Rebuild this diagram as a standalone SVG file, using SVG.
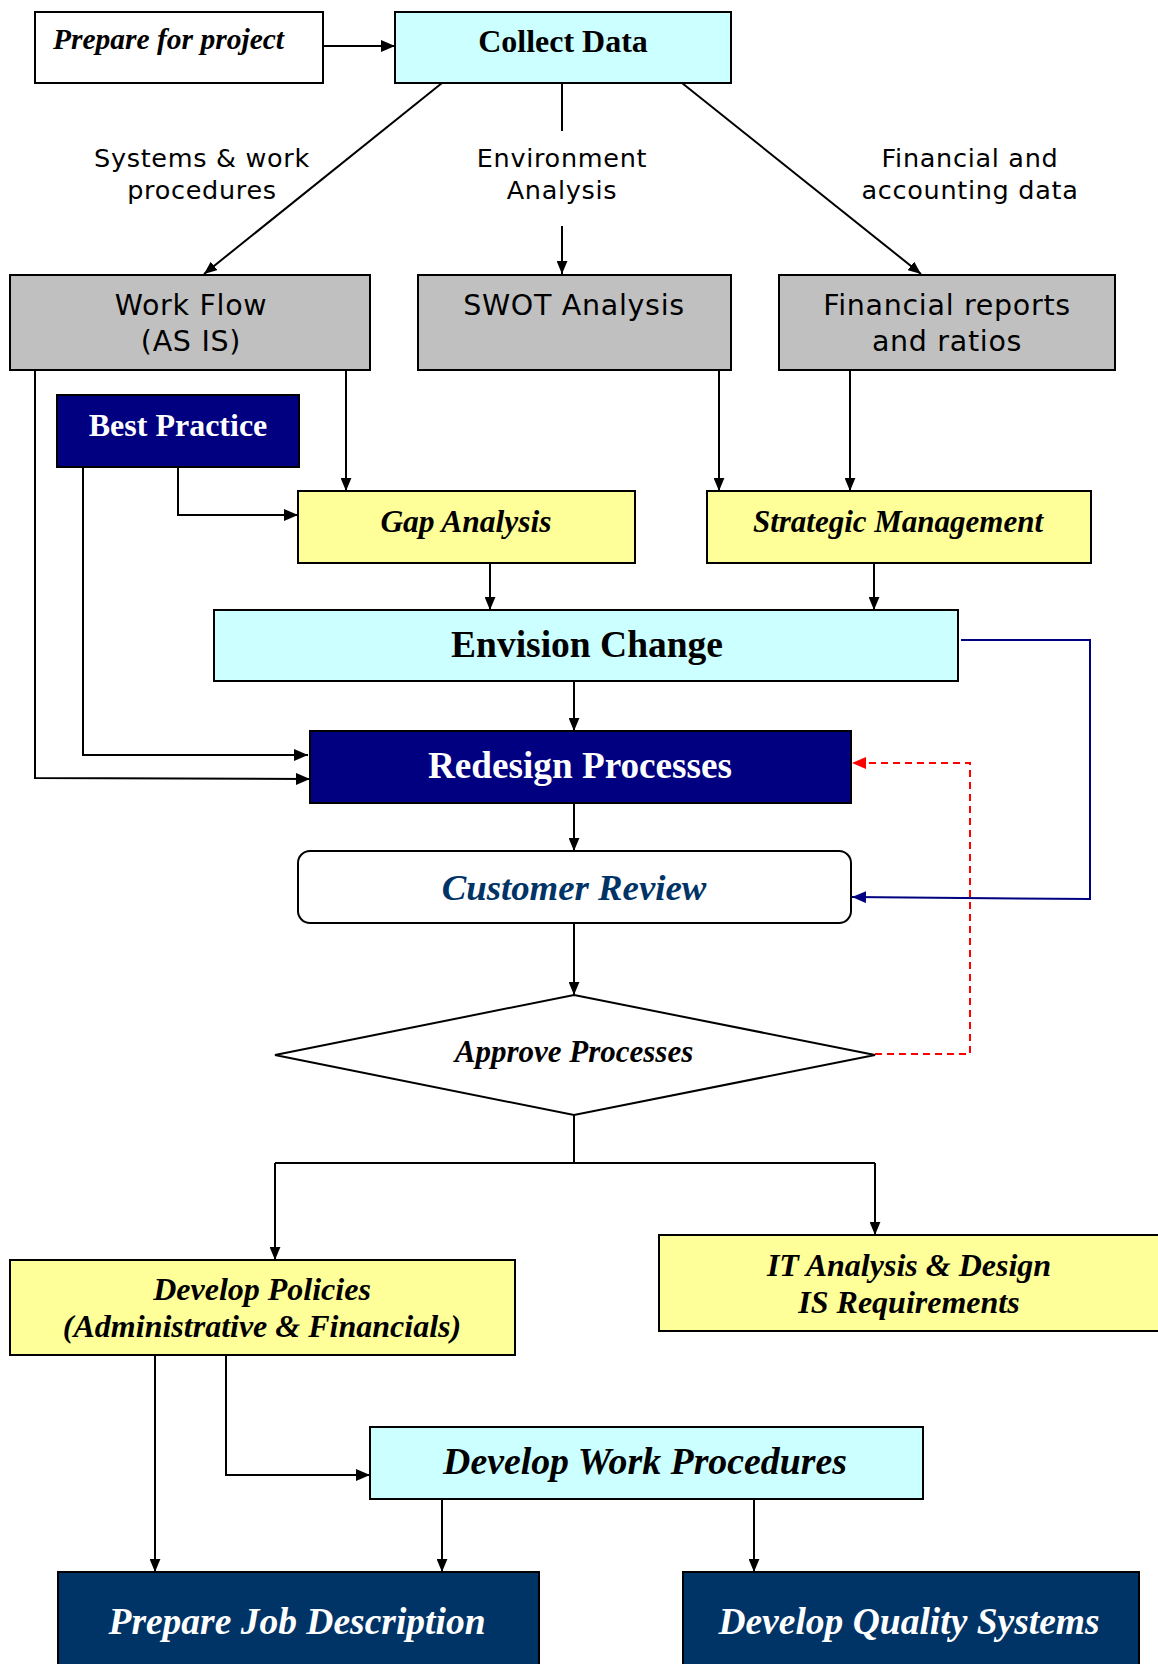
<svg xmlns="http://www.w3.org/2000/svg" width="1158" height="1664" viewBox="0 0 1158 1664">
<defs>
<marker id="ah" viewBox="0 0 12 10" refX="12" refY="5" markerWidth="13" markerHeight="11" markerUnits="userSpaceOnUse" orient="auto"><path d="M0,0 L12,5 L0,10 Z" fill="#000"/></marker>
<marker id="ahb" viewBox="0 0 14 12" refX="14" refY="6" markerWidth="14" markerHeight="12" markerUnits="userSpaceOnUse" orient="auto"><path d="M0,0 L14,6 L0,12 Z" fill="#000"/></marker>
<marker id="ahn" viewBox="0 0 14 12" refX="14" refY="6" markerWidth="14" markerHeight="12" markerUnits="userSpaceOnUse" orient="auto"><path d="M0,0 L14,6 L0,12 Z" fill="#000080"/></marker>
<marker id="ahr" viewBox="0 0 14 12" refX="14" refY="6" markerWidth="14" markerHeight="12" markerUnits="userSpaceOnUse" orient="auto"><path d="M0,0 L14,6 L0,12 Z" fill="#FF0000"/></marker>
</defs>
<style>
.box{stroke:#000;stroke-width:2}
.cyan{fill:#CCFFFF}
.gray{fill:#C0C0C0}
.yel{fill:#FFFF99}
.navy{fill:#000080}
.dnavy{fill:#003366}
.ser{font-family:"Liberation Serif","Times New Roman",serif;font-weight:bold;text-anchor:middle}
.it{font-style:italic}
.sans{font-family:"DejaVu Sans",Verdana,sans-serif;text-anchor:middle;fill:#000}
.lbl{font-size:25.5px;letter-spacing:0.7px}
.bx{font-size:28.5px;letter-spacing:0.7px}
.c{fill:none;stroke:#000;stroke-width:2}
</style>
<rect width="1158" height="1664" fill="#fff"/>
<g id="connectors">
<path class="c" d="M323,46 L395,46" marker-end="url(#ahb)"/>
<path class="c" d="M442,83 L204,274" marker-end="url(#ah)"/>
<path class="c" d="M562,83 L562,131"/>
<path class="c" d="M562,226 L562,274" marker-end="url(#ah)"/>
<path class="c" d="M682,83 L921,274" marker-end="url(#ah)"/>
<path class="c" d="M346,370 L346,491" marker-end="url(#ah)"/>
<path class="c" d="M719,370 L719,491" marker-end="url(#ah)"/>
<path class="c" d="M850,370 L850,491" marker-end="url(#ah)"/>
<path class="c" d="M178,467 L178,515 L298,515" marker-end="url(#ahb)"/>
<path class="c" d="M83,467 L83,755 L308,755" marker-end="url(#ahb)"/>
<path class="c" d="M35,370 L35,778 L310,779" marker-end="url(#ahb)"/>
<path class="c" d="M490,563 L490,610" marker-end="url(#ah)"/>
<path class="c" d="M874,563 L874,610" marker-end="url(#ah)"/>
<path class="c" d="M574,681 L574,731" marker-end="url(#ah)"/>
<path class="c" d="M574,803 L574,851" marker-end="url(#ah)"/>
<path class="c" d="M574,923 L574,995" marker-end="url(#ah)"/>
<path d="M961,640 L1090,640 L1090,899 L852,897" fill="none" stroke="#000080" stroke-width="2" marker-end="url(#ahn)"/>
<path d="M875,1054 L970,1054 L970,763 L852,763" fill="none" stroke="#FF0000" stroke-width="2" stroke-dasharray="7,5" marker-end="url(#ahr)"/>
<path class="c" d="M574,1115 L574,1163"/>
<path class="c" d="M275,1163 L875,1163"/>
<path class="c" d="M275,1163 L275,1260" marker-end="url(#ah)"/>
<path class="c" d="M875,1163 L875,1235" marker-end="url(#ah)"/>
<path class="c" d="M155,1355 L155,1572" marker-end="url(#ah)"/>
<path class="c" d="M226,1355 L226,1475 L370,1475" marker-end="url(#ahb)"/>
<path class="c" d="M442,1499 L442,1572" marker-end="url(#ah)"/>
<path class="c" d="M754,1499 L754,1572" marker-end="url(#ah)"/>
</g>
<g id="labels">
<text class="sans lbl" x="202" y="167">Systems &amp; work</text>
<text class="sans lbl" x="202" y="199">procedures</text>
<text class="sans lbl" x="562" y="167">Environment</text>
<text class="sans lbl" x="562" y="199">Analysis</text>
<text class="sans lbl" x="970" y="167">Financial and</text>
<text class="sans lbl" x="970" y="199">accounting data</text>
</g>
<g id="prepare-for-project">
<rect class="box" x="35" y="12" width="288" height="71" fill="#fff"/>
<text class="ser it" font-size="29.5" x="53" y="49" style="text-anchor:start">Prepare for project</text>
</g>
<g id="collect-data">
<rect class="box cyan" x="395" y="12" width="336" height="71"/>
<text class="ser" font-size="32" x="563" y="52">Collect Data</text>
</g>
<g id="work-flow">
<rect class="box gray" x="10" y="275" width="360" height="95"/>
<text class="sans bx" x="191" y="315">Work Flow</text>
<text class="sans bx" x="191" y="351">(AS IS)</text>
</g>
<g id="swot">
<rect class="box gray" x="418" y="275" width="313" height="95"/>
<text class="sans bx" x="574" y="315">SWOT Analysis</text>
</g>
<g id="financial-reports">
<rect class="box gray" x="779" y="275" width="336" height="95"/>
<text class="sans bx" x="947" y="315">Financial reports</text>
<text class="sans bx" x="947" y="351">and ratios</text>
</g>
<g id="best-practice">
<rect class="box navy" x="57" y="395" width="242" height="72"/>
<text class="ser" font-size="32" x="178" y="436" fill="#fff">Best Practice</text>
</g>
<g id="gap-analysis">
<rect class="box yel" x="298" y="491" width="337" height="72"/>
<text class="ser it" font-size="31.5" x="466" y="532">Gap Analysis</text>
</g>
<g id="strategic-management">
<rect class="box yel" x="707" y="491" width="384" height="72"/>
<text class="ser it" font-size="31" x="898" y="532">Strategic Management</text>
</g>
<g id="envision-change">
<rect class="box cyan" x="214" y="610" width="744" height="71"/>
<text class="ser" font-size="37.5" x="587" y="657">Envision Change</text>
</g>
<g id="redesign-processes">
<rect class="box navy" x="310" y="731" width="541" height="72"/>
<text class="ser" font-size="37.2" x="580" y="778" fill="#fff">Redesign Processes</text>
</g>
<g id="customer-review">
<rect class="box" x="298" y="851" width="553" height="72" rx="12" fill="#fff"/>
<text class="ser it" font-size="36.8" x="574" y="900" fill="#003366">Customer Review</text>
</g>
<g id="approve-processes">
<path class="box" d="M574,995 L875,1055 L574,1115 L275,1055 Z" fill="#fff"/>
<text class="ser it" font-size="31" x="574" y="1062">Approve Processes</text>
</g>
<g id="develop-policies">
<rect class="box yel" x="10" y="1260" width="505" height="95"/>
<text class="ser it" font-size="32" x="262" y="1300">Develop Policies</text>
<text class="ser it" font-size="32" x="262" y="1337">(Administrative &amp; Financials)</text>
</g>
<g id="it-analysis">
<rect class="box yel" x="659" y="1235" width="510" height="96"/>
<text class="ser it" font-size="32" x="909" y="1276">IT Analysis &amp; Design</text>
<text class="ser it" font-size="32" x="909" y="1313">IS Requirements</text>
</g>
<g id="develop-work-procedures">
<rect class="box cyan" x="370" y="1427" width="553" height="72"/>
<text class="ser it" font-size="37.8" x="645" y="1474">Develop Work Procedures</text>
</g>
<g id="prepare-job-description">
<rect class="box dnavy" x="58" y="1572" width="481" height="100"/>
<text class="ser it" font-size="37.5" x="297" y="1634" fill="#fff">Prepare Job Description</text>
</g>
<g id="develop-quality-systems">
<rect class="box dnavy" x="683" y="1572" width="456" height="100"/>
<text class="ser it" font-size="37.5" x="909" y="1634" fill="#fff">Develop Quality Systems</text>
</g>
</svg>
